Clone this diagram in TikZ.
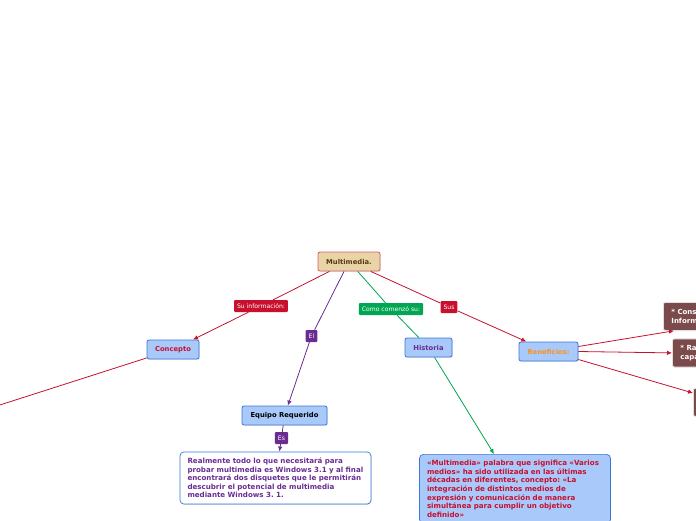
\documentclass[tikz,border=0pt]{standalone}
\usepackage{fontspec}
\setmainfont{DejaVu Sans}
\usetikzlibrary{positioning,arrows.meta,calc,shadows}
\definecolor{tanfill}{HTML}{E9D4A7}
\definecolor{tanline}{HTML}{D0606A}
\definecolor{bluefill}{HTML}{A8C9FA}
\definecolor{blueline}{HTML}{3A78D8}
\definecolor{mmred}{HTML}{C8102E}
\definecolor{mmpurple}{HTML}{6A2C91}
\definecolor{mmgreen}{HTML}{00A651}
\definecolor{mmorange}{HTML}{F7941D}
\definecolor{mmbrown}{HTML}{7B4A4A}
\definecolor{mmdark}{HTML}{5A3A10}
\frenchspacing
\tikzset{
  topic/.style={draw=blueline,fill=bluefill,rounded corners=2pt,line width=.8pt,
    minimum height=19pt,inner xsep=3pt,font=\fontsize{6.8}{7}\selectfont\bfseries,
    drop shadow={shadow xshift=.7pt,shadow yshift=-.7pt,opacity=.25}},
  tag/.style={fill=#1,text=white,rounded corners=1pt,minimum height=12pt,
    inner xsep=3pt,inner ysep=1pt,font=\fontsize{6.1}{6.5}\selectfont},
  note/.style={draw=blueline,rounded corners=4pt,line width=.7pt,align=left,
    text width=176pt,inner xsep=7.5pt,inner ysep=6pt,
    font=\fontsize{7.1}{8.6}\selectfont\bfseries,
    drop shadow={shadow xshift=.7pt,shadow yshift=-.7pt,opacity=.25}},
  perk/.style={draw=black!12,fill=mmbrown,text=white,rounded corners=2pt,line width=.8pt,
    align=left,inner xsep=8pt,minimum height=28pt,
    font=\fontsize{7}{8.6}\selectfont\bfseries,
    drop shadow={shadow xshift=.8pt,shadow yshift=-.8pt,opacity=.3}},
  link/.style={line width=.8pt},
}
\begin{document}
\begin{tikzpicture}[x=1pt,y=-1pt,>={Latex[length=5pt,width=4.5pt]}]
	\useasboundingbox (0,0) rectangle (696,520);
	\clip (0,0) rectangle (696,520);
	% main topics
	\node[topic,draw=tanline,fill=tanfill,text=mmdark,minimum width=62pt] (multi) at (349,261.5) {Multimedia.};
	\node[topic,text=mmred,minimum width=52pt] (concepto) at (173,349.5) {Concepto};
	\node[topic,text=black,minimum width=85pt] (equipo) at (284.5,415.5) {Equipo Requerido};
	\node[topic,text=mmpurple,minimum width=47pt] (historia) at (428.5,347.5) {Historia};
	\node[topic,text=mmorange,minimum width=59pt] (benef) at (548.5,351.5) {Beneficios:};
	% labels on links
	\node[tag=mmred] (suinfo) at (261,306) {Su información:};
	\node[tag=mmpurple] (el) at (311.5,336) {El};
	\node[tag=mmgreen] (como) at (391,309) {Como comenzó su:};
	\node[tag=mmred] (sus) at (449,307) {Sus};
	\node[tag=mmpurple] (es) at (281.5,438) {Es};
	% texts
	\node[note,text=mmpurple,fill=white] (equipotxt) at (275.5,478) {Realmente todo lo que necesitará para\\probar multimedia es Windows 3.1 y al final\\encontrará dos disquetes que le permitirán\\descubrir el potencial de multimedia\\mediante Windows 3. 1.};
	\node[note,text=mmred,fill=bluefill,anchor=north] (historiatxt) at (515,454) {«Multimedia» palabra que significa «Varios\\medios» ha sido utilizada en las últimas\\décadas en diferentes, concepto: «La\\integración de distintos medios de\\expresión y comunicación de manera\\simultánea para cumplir un objetivo\\definido»};
	% benefits
	\node[perk,anchor=north west] (perk1) at (663,302) {* Consulta de\\Información};
	\node[perk,anchor=north west] (perk2) at (672,338.5) {* Rapidez y\\capacidad};
	\node[perk,anchor=north west] (perk3) at (693,388) {* Interactividad\\y multimedia};
	\coordinate (offleft) at (-100,437);
	% links
	\draw[link,mmred] (multi) -- (suinfo);
	\draw[link,mmred,->] (suinfo) -- (concepto);
	\draw[link,mmred] (concepto) -- (offleft);
	\draw[link,mmpurple] (multi) -- (el);
	\draw[link,mmpurple,->] (el) -- (equipo);
	\draw[link,mmpurple] (equipo) -- (es);
	\draw[link,mmpurple,->] (es) -- (equipotxt);
	\draw[link,mmgreen] (multi) -- (como);
	\draw[link,mmgreen] (como) -- (historia);
	\draw[link,mmgreen,->] (historia) -- ([xshift=-21pt]historiatxt.north);
	\draw[link,mmred] (multi) -- (sus);
	\draw[link,mmred,->] (sus) -- (benef);
	\draw[link,mmred,->] ([yshift=5pt]benef.east) -- ([xshift=11pt]perk1.south west);
	\draw[link,mmred,->] (benef.east) -- (perk2.west);
	\draw[link,mmred,->] ([yshift=-8pt]benef.east) -- ([yshift=-5pt]perk3.north west);
\end{tikzpicture}
\end{document}
